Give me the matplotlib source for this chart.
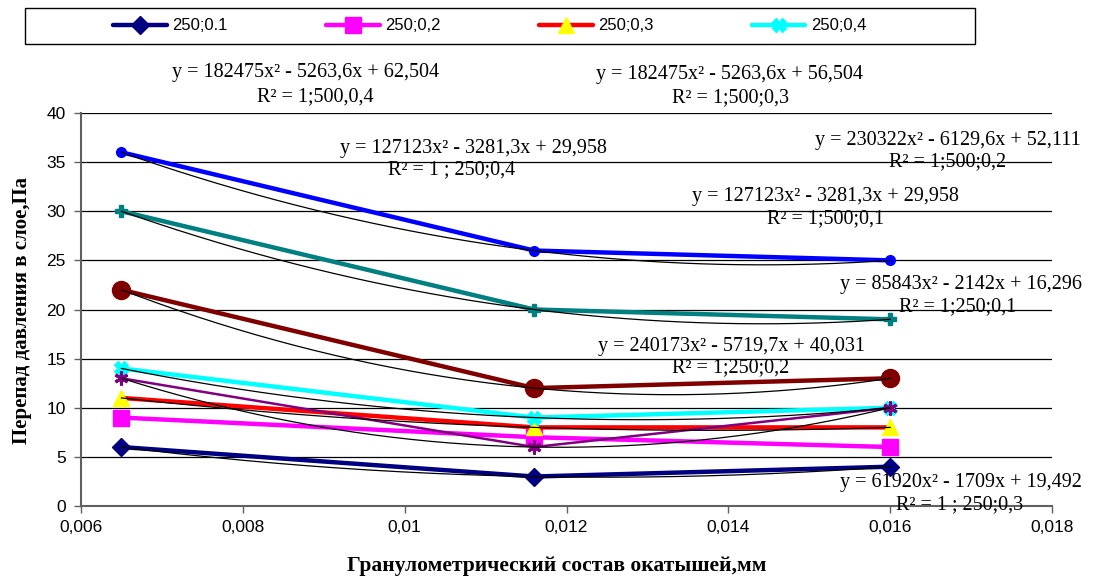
import numpy as np
import matplotlib
matplotlib.use("Agg")
import matplotlib.pyplot as plt
from matplotlib.patches import Rectangle

# Granulometric composition of pellets (mm) and pressure drop in the layer (Pa)
x_vals = [0.0065, 0.0116, 0.016]

s250_01 = [6, 3, 4]
s250_02 = [9, 7, 6]
s250_03 = [11, 8, 8]
s250_04 = [14, 9, 10]
s500_01 = [13, 6, 10]
s500_02 = [22, 12, 13]
s500_03 = [30, 20, 19]
s500_04 = [36, 26, 25]

legend_labels = ["250;0.1", "250;0,2", "250;0,3", "250;0,4"]

x_ticks = [0.006, 0.008, 0.010, 0.012, 0.014, 0.016, 0.018]
x_tick_labels = ["0,006", "0,008", "0,01", "0,012", "0,014", "0,016", "0,018"]
y_ticks = [0, 5, 10, 15, 20, 25, 30, 35, 40]

W, H = 1101, 582
fig = plt.figure(figsize=(W / 100, H / 100), dpi=100)
ax = fig.add_axes([81 / W, 1 - 506 / H, (1052 - 81) / W, (506 - 113) / H])

sans = "Liberation Sans"
serif = "Liberation Serif"

# series styles: (values, line colour, line width, marker, size, face, edge, edge width)
series = [
    (s250_01, "#000080", 3.2, "D", 9, "#000080", "#000080", 1.0),
    (s250_02, "#FF00FF", 3.2, "s", 11, "#FF00FF", "#FF00FF", 1.0),
    (s250_03, "#FF0000", 3.2, "^", 11, "#FFFF00", "#FFFF00", 1.0),
    (s250_04, "#00FFFF", 3.2, "X", 10, "#00FFFF", "#00FFFF", 1.0),
    (s500_01, "#800080", 1.8, (6, 2, 0), 10, "#800080", "#800080", 2.2),
    (s500_02, "#800000", 3.2, "o", 13, "#800000", "#800000", 1.0),
    (s500_03, "#008080", 3.2, "P", 9, "#008080", "#008080", 1.0),
    (s500_04, "#0000FF", 3.2, "o", 7, "#0000FF", "#0000FF", 1.0),
]

handles = []
for vals, col, lw, mk, ms, fc, ec, mew in series:
    ln, = ax.plot(x_vals, vals, color=col, lw=lw, marker=mk, ms=ms,
                  mfc=fc, mec=ec, mew=mew, zorder=3, solid_capstyle="round")
    handles.append(ln)

# second-order polynomial trend lines (R^2 = 1 through three points)
trend_sets = [s250_01, s250_03, s250_04, s500_01, s500_02, s500_03, s500_04]
xs = np.linspace(x_vals[0], x_vals[-1], 200)
for vals in trend_sets:
    coef = np.polyfit(x_vals, vals, 2)
    ax.plot(xs, np.polyval(coef, xs), color="black", lw=0.9, zorder=5)

ax.set_xlim(0.006, 0.018)
ax.set_ylim(0, 40)
ax.set_xticks(x_ticks)
ax.set_xticklabels(x_tick_labels, fontfamily=sans, fontsize=12.5)
ax.set_yticks(y_ticks)
ax.set_yticklabels([str(v) for v in y_ticks], fontfamily=sans, fontsize=12.5)
ax.tick_params(axis="both", direction="out", length=5, width=1, color="#606060")
ax.tick_params(axis="x", pad=5)
ax.tick_params(axis="y", pad=6)

ax.grid(axis="y", color="black", lw=0.9, zorder=1)
ax.set_axisbelow(True)
for side in ("top", "right"):
    ax.spines[side].set_visible(False)
for side in ("left", "bottom"):
    ax.spines[side].set_color("#606060")
    ax.spines[side].set_linewidth(1.5)

# axis titles
fig.text(22 / W, 1 - 311 / H, "Перепад давления в слое,Па", rotation=90,
         ha="center", va="center", fontfamily=serif, fontweight="bold", fontsize=15)
fig.text(557 / W, 1 - 566 / H, "Гранулометрический состав окатышей,мм",
         ha="center", va="center", fontfamily=serif, fontweight="bold", fontsize=15.5)

# trend-line equations
equations = [
    (306, 73, "y = 182475x² - 5263,6x + 62,504"),
    (315, 97, "R² = 1;500,0,4"),
    (730, 75, "y = 182475x² - 5263,6x + 56,504"),
    (731, 98, "R² = 1;500;0,3"),
    (473, 148, "y = 127123x² - 3281,3x + 29,958"),
    (452, 170, "R² = 1 ; 250;0,4"),
    (948, 140, "y = 230322x² - 6129,6x + 52,111"),
    (948, 162, "R² = 1;500;0,2"),
    (825, 197, "y = 127123x² - 3281,3x + 29,958"),
    (826, 219, "R² = 1;500;0,1"),
    (961, 285, "y = 85843x² - 2142x + 16,296"),
    (958, 307, "R² = 1;250;0,1"),
    (732, 346, "y = 240173x² - 5719,7x + 40,031"),
    (731, 368, "R² = 1;250;0,2"),
    (961, 482, "y = 61920x² - 1709x + 19,492"),
    (960, 505, "R² = 1 ; 250;0,3"),
]
for px, py, txt in equations:
    fig.text(px / W, 1 - py / H, txt, ha="center", va="center",
             fontfamily=serif, fontsize=14.5, zorder=6)

# legend with its own frame
fig.patches.append(Rectangle((25 / W, 1 - 44 / H), 950 / W, 36 / H,
                             transform=fig.transFigure, fill=False,
                             edgecolor="black", lw=1.0))
leg = fig.legend(handles[:4], legend_labels, loc="center",
                 bbox_to_anchor=(490 / W, 1 - 26 / H), ncol=4, frameon=False,
                 prop={"family": sans, "size": 12}, handlelength=3.2,
                 handletextpad=0.35, columnspacing=5.9, borderaxespad=0)

fig.savefig("out.png", dpi=100)
